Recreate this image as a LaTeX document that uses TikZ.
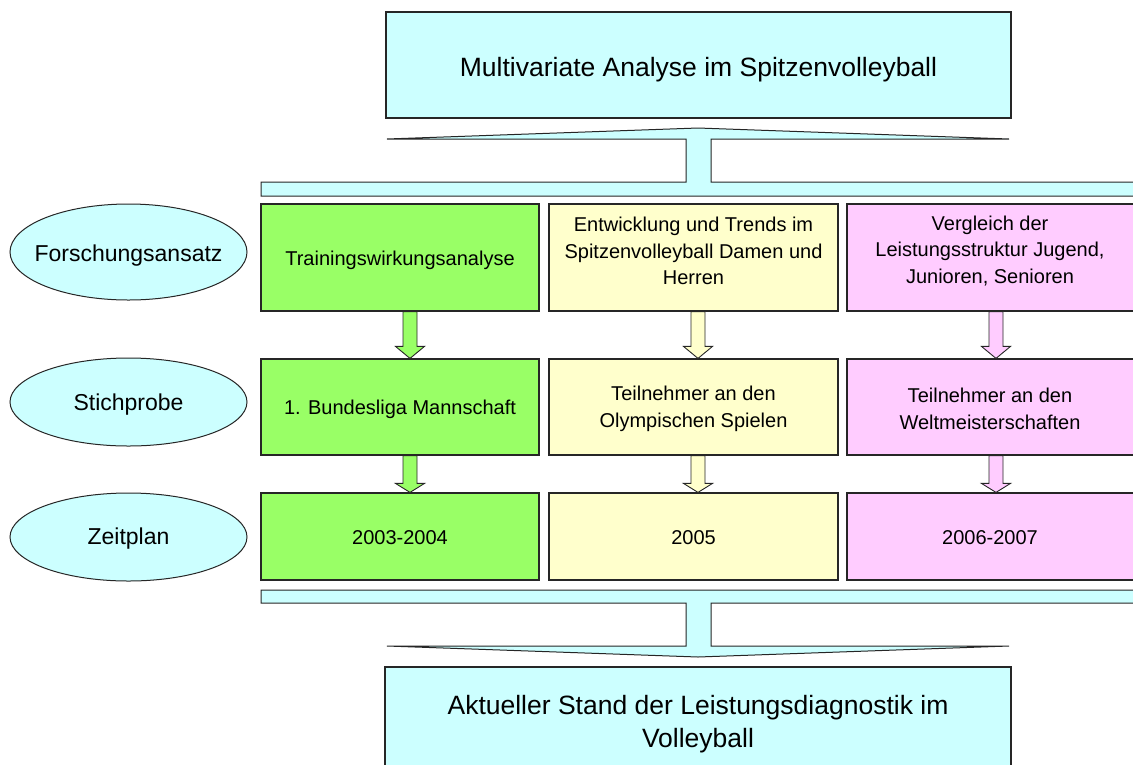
\documentclass[tikz,border=0pt]{standalone}
\usepackage{fontspec}
\setmainfont{Liberation Sans}
\usetikzlibrary{calc,shapes.geometric}
\definecolor{skyfill}{HTML}{CCFFFF}
\definecolor{greenfill}{HTML}{99FF66}
\definecolor{creamfill}{HTML}{FFFFCC}
\definecolor{pinkfill}{HTML}{FFCCFF}
\definecolor{edge}{HTML}{262626}

% downward block arrow between two boxes, at the x of a named coordinate
% #1 upper box, #2 lower box, #3 x coordinate, #4 head length, #5 fill
\newcommand\fatarrow[5]{%
  \draw[fatline, fill=#5]
    ($(#1.south -| #3)+(-7,0)$) -- ($(#2.north -| #3)+(-7,-#4)$)
    -- ($(#2.north -| #3)+(-14.5,-#4)$) -- (#2.north -| #3)
    -- ($(#2.north -| #3)+(14.5,-#4)$) -- ($(#2.north -| #3)+(7,-#4)$)
    -- ($(#1.south -| #3)+(7,0)$) -- cycle;}

\begin{document}
\begin{tikzpicture}[x=1pt,y=-1pt,
  box/.style={draw=edge,line width=1.2pt,rectangle,inner sep=0pt},
  headtext/.style={align=center,inner sep=0pt,font=\fontsize{26.5}{33}\selectfont},
  oval/.style={draw=edge,line width=1pt,ellipse,fill=skyfill,inner sep=0pt,
    minimum width=237pt},
  ovaltext/.style={inner sep=0pt,font=\fontsize{23}{27}\selectfont},
  celltext/.style={align=center,inner sep=0pt,font=\fontsize{20}{26.5}\selectfont},
  bracket/.style={draw=edge,line width=1pt,fill=skyfill,line join=miter},
  fatline/.style={draw=edge,line width=0.9pt,line join=miter}]

\useasboundingbox (0,0) rectangle (1133,764);
\clip (0,0) rectangle (1133,764);

% title and result
\node[box,fill=skyfill,minimum width=625pt,minimum height=106pt] (title) at (698.5,65) {};
\node[headtext] (titlet) at (698.5,70) {Multivariate Analyse im Spitzenvolleyball};
\node[box,fill=skyfill,minimum width=626pt,minimum height=120pt] (result) at (698,727) {};
\node[headtext] (resultt) at (698,724) {Aktueller Stand der Leistungsdiagnostik im\\Volleyball};

% brackets: title splits into the three columns, columns join into the result
\draw[bracket] (261,196) -- (1140,196) -- (1140,182) -- (711,182) -- (711,139)
  -- (1009,139) -- (698,128) -- (387,139) -- (686,139) -- (686,182) -- (261,182) -- cycle;
\draw[bracket] (261,590) -- (1140,590) -- (1140,603) -- (711,603) -- (711,646)
  -- (1009,646) -- (698,657) -- (387,646) -- (686,646) -- (686,603) -- (261,603) -- cycle;

% row headers
\node[oval,minimum height=96pt] (ansatz) at (128.5,252) {};
\node[oval,minimum height=88pt] (probe) at (128.5,402) {};
\node[oval,minimum height=88pt] (zeit) at (128.5,537) {};
\node[ovaltext] (ansatzt) at (128.5,256) {Forschungsansatz};
\node[ovaltext] (probet) at (128.5,405) {Stichprobe};
\node[ovaltext] (zeitt) at (128.5,539) {Zeitplan};

% column boxes
\node[box,fill=greenfill,minimum width=278pt,minimum height=107pt] (g1) at (400,257.5) {};
\node[box,fill=greenfill,minimum width=278pt,minimum height=96pt] (g2) at (400,407) {};
\node[box,fill=greenfill,minimum width=278pt,minimum height=87pt] (g3) at (400,536.5) {};
\node[box,fill=creamfill,minimum width=289pt,minimum height=107pt] (y1) at (693.5,257.5) {};
\node[box,fill=creamfill,minimum width=289pt,minimum height=96pt] (y2) at (693.5,407) {};
\node[box,fill=creamfill,minimum width=289pt,minimum height=87pt] (y3) at (693.5,536.5) {};
\node[box,fill=pinkfill,minimum width=290pt,minimum height=107pt] (p1) at (992,257.5) {};
\node[box,fill=pinkfill,minimum width=290pt,minimum height=96pt] (p2) at (992,407) {};
\node[box,fill=pinkfill,minimum width=290pt,minimum height=87pt] (p3) at (992,536.5) {};

% box texts
\node[celltext] (g1t) at (400,260) {Trainingswirkungsanalyse};
\node[celltext] (y1t) at (693.5,251) {Entwicklung und Trends im\\Spitzenvolleyball Damen und\\Herren};
\node[celltext] (p1t) at (990,251) {Vergleich der\\Leistungsstruktur Jugend,\\Junioren, Senioren};
\node[celltext] (g2t) at (400,409) {1. Bundesliga Mannschaft};
\node[celltext] (y2t) at (693.5,409) {Teilnehmer an den\\Olympischen Spielen};
\node[celltext] (p2t) at (990,409) {Teilnehmer an den\\Weltmeisterschaften};
\node[celltext] (g3t) at (400,538) {2003-2004};
\node[celltext] (y3t) at (693.5,538) {2005};
\node[celltext] (p3t) at (990,538) {2006-2007};

% arrow axes
\coordinate (ag) at (410,0);
\coordinate (ay) at (698,0);
\coordinate (ap) at (996,0);

\fatarrow{g1}{g2}{ag}{12}{greenfill}
\fatarrow{g2}{g3}{ag}{9}{greenfill}
\fatarrow{y1}{y2}{ay}{12}{creamfill}
\fatarrow{y2}{y3}{ay}{9}{creamfill}
\fatarrow{p1}{p2}{ap}{12}{pinkfill}
\fatarrow{p2}{p3}{ap}{9}{pinkfill}
\end{tikzpicture}
\end{document}
